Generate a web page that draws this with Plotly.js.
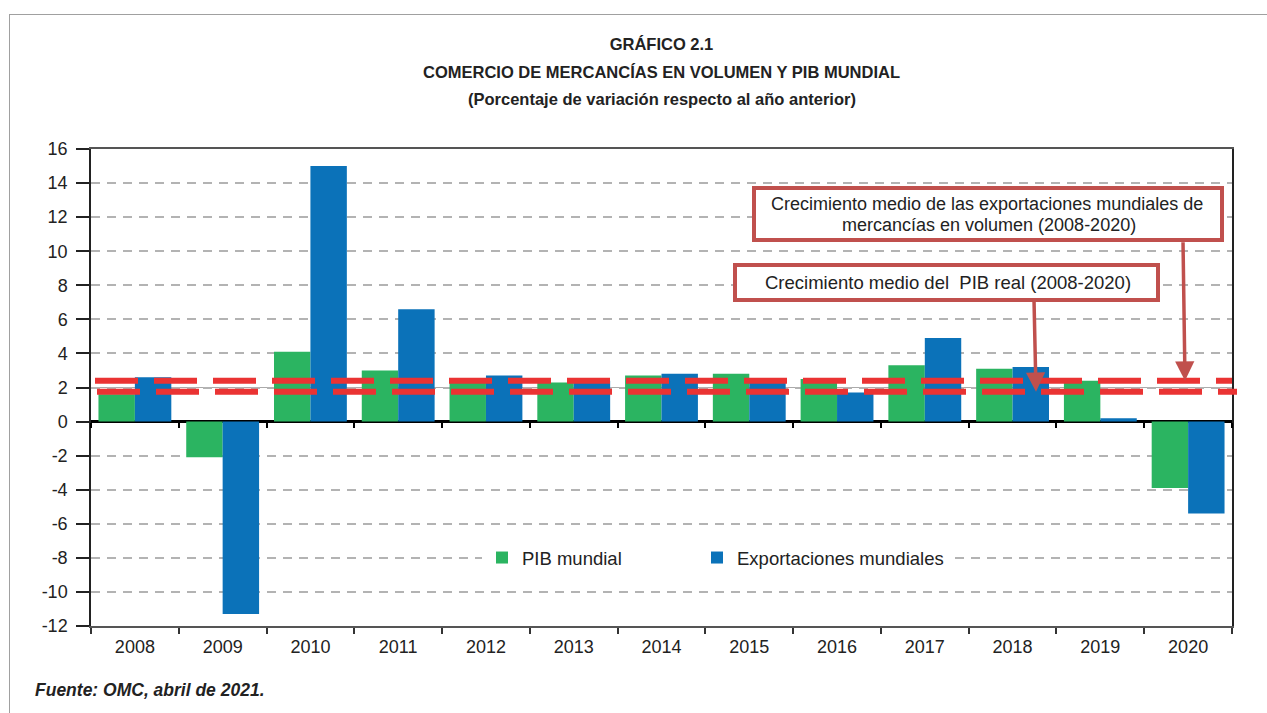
<!DOCTYPE html>
<html>
<head>
<meta charset="utf-8">
<script src="https://cdn.plot.ly/plotly-3.0.1.min.js"></script>
<style>
  html, body { margin: 0; padding: 0; background: #fff; }
  #chart { width: 1267px; height: 713px; }
  #frame { position: absolute; left: 9px; top: 14px; right: 0; bottom: 0; border-top: 1.5px solid #a0a0a0; border-left: 1.5px solid #a0a0a0; pointer-events: none; }
</style>
</head>
<body>
<div id="chart"></div>
<div id="frame"></div>
<script>
// ---- Data ----
const years = ['2008','2009','2010','2011','2012','2013','2014','2015','2016','2017','2018','2019','2020'];
const pibMundial = [1.6, -2.1, 4.1, 3.0, 2.4, 2.3, 2.7, 2.8, 2.5, 3.3, 3.1, 2.4, -3.9];
const exportacionesMundiales = [2.6, -11.3, 15.0, 6.6, 2.7, 2.4, 2.8, 2.4, 1.7, 4.9, 3.2, 0.2, -5.4];
const mediaExportaciones = 2.4;   // average line, exports 2008-2020
const mediaPIB = 1.75;            // average line, real GDP 2008-2020
const yTickVals = [16, 14, 12, 10, 8, 6, 4, 2, 0, -2, -4, -6, -8, -10, -12];
const yRange = [-12, 16];

const seriesNames = ['PIB mundial', 'Exportaciones mundiales'];
const titleLines = ['GRÁFICO 2.1', 'COMERCIO DE MERCANCÍAS EN VOLUMEN Y PIB MUNDIAL', '(Porcentaje de variación respecto al año anterior)'];
const boxExportLines = ['Crecimiento medio de las exportaciones mundiales de', 'mercancías en volumen (2008-2020)'];
const boxPIB = 'Crecimiento medio del&nbsp; PIB real (2008-2020)';
const fuente = 'Fuente: OMC, abril de 2021.';

// ---- Styles / geometry ----
const GREEN = '#2bb461';
const BLUE = '#0b72b9';
const RED = '#ea3333';
const BOXRED = '#c0504d';
const FONT = 'Liberation Sans, Arial, Helvetica, sans-serif';
const TXT = '#222222';
const M = { l: 91, r: 35, t: 149, b: 87 };
const W = 1267, H = 713;
const PW = W - M.l - M.r, PH = H - M.t - M.b;
const px = v => (v - M.l) / PW;          // page pixel x -> paper
const py = v => (H - M.b - v) / PH;      // page pixel y -> paper

const zeroPos = (0 - yRange[0]) / (yRange[1] - yRange[0]);
const xRange = [-0.5, years.length - 0.5];

const traces = [
  { type: 'bar', name: seriesNames[0], x: years, y: pibMundial, legend: 'legend',
    marker: { color: GREEN, line: { width: 0 } }, hoverinfo: 'x+y+name' },
  { type: 'bar', name: seriesNames[1], x: years, y: exportacionesMundiales, legend: 'legend2',
    marker: { color: BLUE, line: { width: 0 } }, hoverinfo: 'x+y+name' },
  // helper trace so the tick axis on the zero line knows the categories
  { type: 'scatter', mode: 'markers', x: years, y: years.map(() => null), xaxis: 'x2', showlegend: false, hoverinfo: 'skip' }
];

const legendCommon = {
  orientation: 'h', xanchor: 'left', y: py(558), yanchor: 'middle',
  bgcolor: '#fff', font: { family: FONT, size: 18.5, color: TXT }, itemwidth: 30
};

const layout = {
  width: W, height: H,
  margin: M,
  paper_bgcolor: '#fff', plot_bgcolor: '#fff',
  font: { family: FONT, size: 18, color: TXT },
  barmode: 'group', bargap: 0.17, bargroupgap: 0,
  title: {
    text: '<b>' + titleLines[0] + '</b>',
    font: { family: FONT, size: 16.5, color: TXT },
    x: 0.5, xanchor: 'center', xref: 'paper',
    y: 1 - 44 / H, yanchor: 'middle', yref: 'container'
  },
  xaxis: {
    type: 'category', categoryarray: years, range: xRange, autorange: false,
    showline: true, linecolor: '#555', linewidth: 1.5, mirror: true,
    ticks: 'outside', tickson: 'boundaries', ticklen: 6, tickwidth: 1.5, tickcolor: '#333',
    tickfont: { family: FONT, size: 18, color: TXT },
    ticklabelstandoff: 4,
    showgrid: false, zeroline: false
  },
  xaxis2: {
    type: 'category', categoryarray: years, overlaying: 'x', range: xRange, autorange: false,
    anchor: 'free', position: zeroPos, side: 'bottom',
    showline: false, ticks: 'outside', tickson: 'boundaries', ticklen: 5, tickwidth: 2, tickcolor: '#000',
    showticklabels: false, showgrid: false, zeroline: false
  },
  yaxis: {
    range: yRange, autorange: false, tickvals: yTickVals, ticktext: yTickVals.map(String),
    showline: true, linecolor: '#222', linewidth: 1.5, mirror: true,
    ticks: 'outside', ticklen: 13, tickwidth: 2, tickcolor: '#222',
    tickfont: { family: FONT, size: 18, color: TXT },
    ticklabelstandoff: 5,
    showgrid: true, gridcolor: '#b3b3b3', gridwidth: 1.5, griddash: '9px,7px',
    zeroline: true, zerolinecolor: '#000', zerolinewidth: 3
  },
  legend: Object.assign({}, legendCommon, { x: px(482), entrywidth: 170, entrywidthmode: 'pixels' }),
  legend2: Object.assign({}, legendCommon, { x: px(697) }),
  shapes: [
    { type: 'line', xref: 'paper', yref: 'y', x0: 0, x1: 1, y0: 2, y1: 2, layer: 'below',
      line: { color: '#aaaaaa', width: 1 } },
    { type: 'line', xref: 'paper', yref: 'y', x0: px(95), x1: 1.0, y0: mediaExportaciones, y1: mediaExportaciones,
      line: { color: RED, width: 6, dash: '43px,16px' } },
    { type: 'line', xref: 'paper', yref: 'y', x0: px(97), x1: px(1237), y0: mediaPIB, y1: mediaPIB,
      line: { color: RED, width: 6, dash: '43px,16px' } },
    // annotation boxes
    { type: 'rect', xref: 'paper', yref: 'paper', x0: px(754), x1: px(1222), y0: py(240), y1: py(188),
      fillcolor: '#fff', line: { color: BOXRED, width: 4 } },
    { type: 'rect', xref: 'paper', yref: 'paper', x0: px(735), x1: px(1158), y0: py(300), y1: py(265),
      fillcolor: '#fff', line: { color: BOXRED, width: 4 } }
  ],
  annotations: [
    { text: '<b>' + titleLines[1] + '</b>', xref: 'paper', yref: 'paper', x: 0.5, y: py(72),
      xanchor: 'center', yanchor: 'middle', showarrow: false, font: { family: FONT, size: 16.5, color: TXT } },
    { text: '<b>' + titleLines[2] + '</b>', xref: 'paper', yref: 'paper', x: 0.5, y: py(99),
      xanchor: 'center', yanchor: 'middle', showarrow: false, font: { family: FONT, size: 16.5, color: TXT } },
    // arrows
    { text: '', xref: 'paper', yref: 'y', x: px(1185), y: mediaExportaciones,
      showarrow: true, axref: 'pixel', ayref: 'pixel', ax: -2, ay: -140,
      arrowhead: 2, arrowsize: 1.1, arrowwidth: 3.5, arrowcolor: BOXRED, standoff: 0 },
    { text: '', xref: 'paper', yref: 'y', x: px(1036), y: mediaPIB,
      showarrow: true, axref: 'pixel', ayref: 'pixel', ax: -2, ay: -92,
      arrowhead: 2, arrowsize: 1.1, arrowwidth: 3.5, arrowcolor: BOXRED, standoff: 0 },
    // box texts
    { text: boxExportLines[0], xref: 'paper', yref: 'paper', x: px(987), y: py(203.5),
      xanchor: 'center', yanchor: 'middle', showarrow: false, font: { family: FONT, size: 18, color: TXT } },
    { text: boxExportLines[1], xref: 'paper', yref: 'paper', x: px(989), y: py(224.5),
      xanchor: 'center', yanchor: 'middle', showarrow: false, font: { family: FONT, size: 18, color: TXT } },
    { text: boxPIB, xref: 'paper', yref: 'paper', x: px(948), y: py(282),
      xanchor: 'center', yanchor: 'middle', showarrow: false, font: { family: FONT, size: 18.5, color: TXT } },
    // source
    { text: '<b><i>' + fuente + '</i></b>', xref: 'paper', yref: 'paper', x: px(33), y: py(690),
      xanchor: 'left', yanchor: 'middle', showarrow: false, font: { family: FONT, size: 17.5, color: TXT } }
  ]
};

Plotly.newPlot('chart', traces, layout, { displayModeBar: false, responsive: false });
</script>
</body>
</html>
